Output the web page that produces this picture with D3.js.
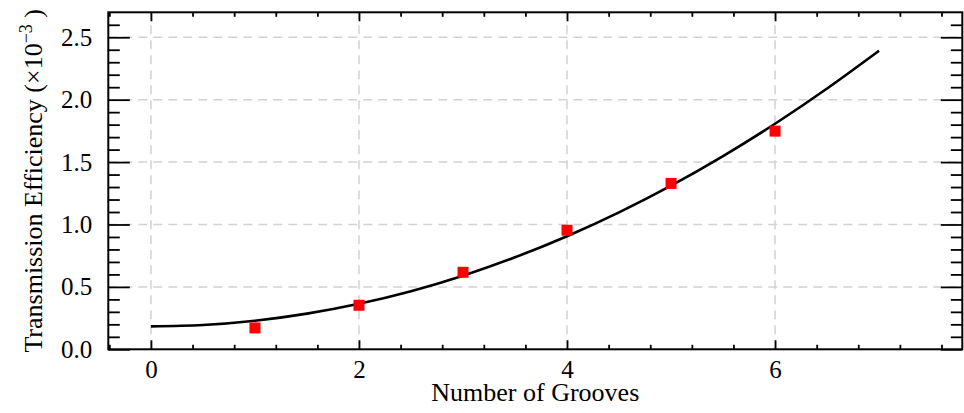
<!DOCTYPE html>
<html>
<head>
<meta charset="utf-8">
<script src="https://cdn.jsdelivr.net/npm/d3@7"></script>
<style>
  html, body { margin: 0; padding: 0; background: #fff; }
  svg { display: block; font-family: "Liberation Serif", "DejaVu Serif", serif; }
</style>
</head>
<body>
<svg id="chart" width="964" height="413"></svg>
<script>
// Measured transmission efficiency (×10^-3) for each groove count
const grooves = [1, 2, 3, 4, 5, 6];
const efficiency = [0.171, 0.353, 0.617, 0.954, 1.329, 1.748];

// Fitted trend, sampled every half groove
const fitX = [0, 0.5, 1, 1.5, 2, 2.5, 3, 3.5, 4, 4.5, 5, 5.5, 6, 6.5, 7];
const fitY = [0.184, 0.195, 0.229, 0.286, 0.365, 0.466, 0.590, 0.737, 0.906, 1.097, 1.311, 1.548, 1.807, 2.089, 2.392];

// Axis ticks
const xMajorTicks = [0, 2, 4, 6];
const xMinorTicks = [-0.4, 0.4, 0.8, 1.2, 1.6, 2.4, 2.8, 3.2, 3.6, 4.4, 4.8, 5.2, 5.6, 6.4, 6.8, 7.2, 7.6];
const yMajorTicks = [0, 0.5, 1.0, 1.5, 2.0, 2.5];
const yMinorTicks = [0.1, 0.2, 0.3, 0.4, 0.6, 0.7, 0.8, 0.9, 1.1, 1.2, 1.3, 1.4, 1.6, 1.7, 1.8, 1.9, 2.1, 2.2, 2.3, 2.4, 2.6];

const svg = d3.select("#chart");
const plotL = 108.3, plotR = 962.3, plotT = 12.3, plotB = 349.3;

const x = d3.scaleLinear().domain([-0.41, 7.8]).range([plotL, plotR]);
const y = d3.scaleLinear().domain([0, 2.7]).range([plotB, plotT]);

const fmt = d3.format(".1f");

// Dashed grid at major ticks
const grid = svg.append("g")
  .attr("stroke", "#d2d2d2")
  .attr("stroke-width", 1.5)
  .attr("stroke-dasharray", "9,6");
grid.selectAll("line.gx").data(xMajorTicks).join("line")
  .attr("class", "gx")
  .attr("x1", d => x(d)).attr("x2", d => x(d))
  .attr("y1", plotB).attr("y2", plotT);
grid.selectAll("line.gy").data(yMajorTicks.filter(d => d > 0)).join("line")
  .attr("class", "gy")
  .attr("x1", plotL).attr("x2", plotR)
  .attr("y1", d => y(d)).attr("y2", d => y(d));

// Fitted curve
const line = d3.line()
  .x((d, i) => x(fitX[i]))
  .y(d => y(d))
  .curve(d3.curveNatural);
svg.append("path")
  .datum(fitY)
  .attr("d", line)
  .attr("fill", "none")
  .attr("stroke", "#000")
  .attr("stroke-width", 2.6);

// Measured points
const sq = 11;
svg.selectAll("rect.pt").data(grooves).join("rect")
  .attr("class", "pt")
  .attr("x", d => x(d) - sq / 2)
  .attr("y", (d, i) => y(efficiency[i]) - sq / 2)
  .attr("width", sq).attr("height", sq)
  .attr("fill", "#ff0000");

// Axes with inward ticks on all four sides
function styleAxis(g) {
  g.select(".domain").remove();
  g.selectAll(".tick line").attr("stroke", "#000").attr("stroke-width", 1.8);
  g.selectAll("text").attr("font-size", 25).attr("fill", "#000")
    .attr("font-family", "'Liberation Serif', 'DejaVu Serif', serif");
}

// bottom
svg.append("g").attr("transform", `translate(0,${plotB})`)
  .call(d3.axisBottom(x).tickValues(xMajorTicks).tickSize(-9).tickPadding(11).tickFormat(d3.format("d")))
  .call(styleAxis);
svg.append("g").attr("transform", `translate(0,${plotB})`)
  .call(d3.axisBottom(x).tickValues(xMinorTicks).tickSize(-4.5).tickFormat(""))
  .call(styleAxis);
// top
svg.append("g").attr("transform", `translate(0,${plotT})`)
  .call(d3.axisTop(x).tickValues(xMajorTicks).tickSize(-9).tickFormat(""))
  .call(styleAxis);
svg.append("g").attr("transform", `translate(0,${plotT})`)
  .call(d3.axisTop(x).tickValues(xMinorTicks).tickSize(-4.5).tickFormat(""))
  .call(styleAxis);
// left
svg.append("g").attr("transform", `translate(${plotL},0)`)
  .call(d3.axisLeft(y).tickValues(yMajorTicks).tickSize(-21.5).tickPadding(16).tickFormat(fmt))
  .call(styleAxis);
svg.append("g").attr("transform", `translate(${plotL},0)`)
  .call(d3.axisLeft(y).tickValues(yMinorTicks).tickSize(-11.5).tickFormat(""))
  .call(styleAxis);
// right
svg.append("g").attr("transform", `translate(${plotR},0)`)
  .call(d3.axisRight(y).tickValues(yMajorTicks).tickSize(-21.5).tickFormat(""))
  .call(styleAxis);
svg.append("g").attr("transform", `translate(${plotR},0)`)
  .call(d3.axisRight(y).tickValues(yMinorTicks).tickSize(-11.5).tickFormat(""))
  .call(styleAxis);

// Frame
svg.append("rect")
  .attr("x", plotL).attr("y", plotT)
  .attr("width", plotR - plotL).attr("height", plotB - plotT)
  .attr("fill", "none").attr("stroke", "#000").attr("stroke-width", 2);

// Axis titles
svg.append("text")
  .attr("x", (plotL + plotR) / 2).attr("y", 401)
  .attr("text-anchor", "middle")
  .attr("font-size", 26)
  .text("Number of Grooves");

const yt = svg.append("text")
  .attr("transform", `translate(42,${(plotT + plotB) / 2}) rotate(-90)`)
  .attr("text-anchor", "middle")
  .attr("font-size", 26);
yt.append("tspan").text("Transmission Efficiency (×10");
yt.append("tspan").attr("dy", "-0.55em").attr("font-size", 18).text("−3");
yt.append("tspan").attr("dy", "0.38em").text(" )");
</script>
</body>
</html>
